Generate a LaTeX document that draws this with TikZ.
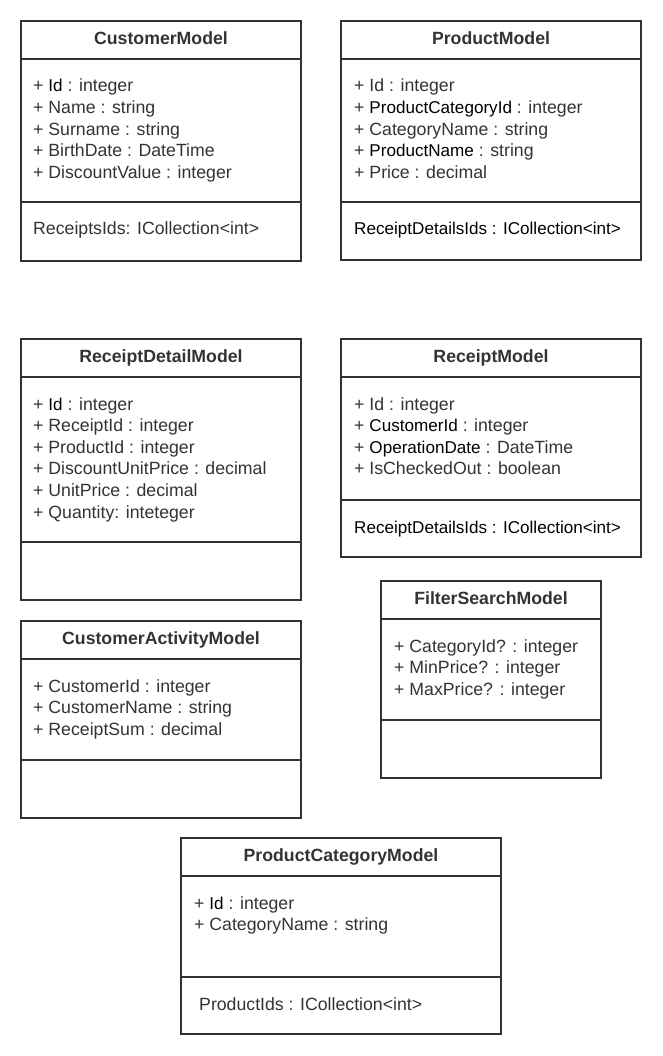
\documentclass[tikz,border=0pt]{standalone}
\usepackage{fontspec}
\setmainfont{Liberation Sans}
\usepackage{tikz}
\definecolor{ink}{HTML}{333333}
\newcommand{\dk}[1]{\textcolor{black}{\fontsize{17.1}{21.6}\selectfont #1}}

\begin{document}
\begin{tikzpicture}[x=1pt, y=-1pt, font=\fontsize{17.7}{21.6}\selectfont,
		box/.style={draw=ink, line width=2pt},
		title/.style={anchor=base, inner sep=0pt, text=ink, font=\fontsize{17.7}{21.6}\selectfont\bfseries},
		attr/.style={anchor=base west, inner sep=0pt, text=ink}]
			\useasboundingbox (0,0) rectangle (662,1056);
			
			% CustomerModel
			\draw[box] (21,21) rectangle (301,261);
			\draw[box] (21,59) -- (301,59);
			\draw[box] (21,202) -- (301,202);
			\node[title] (cmTitle) at (161,44.5) {CustomerModel};
			\foreach \t [count=\i] in {+ \dk{Id} : integer, + Name : string, + Surname : string, + BirthDate : DateTime, + DiscountValue : integer}
				\node[attr] (cmAttr\i) at (33,{92+(\i-1)*21.6}) {\t};
			\node[attr] (cmOps) at (33,235) {ReceiptsIds: ICollection<int>};
			
			% ProductModel
			\draw[box] (341,21) rectangle (641,260);
			\draw[box] (341,59) -- (641,59);
			\draw[box] (341,202) -- (641,202);
			\node[title] (pmTitle) at (491,44.5) {ProductModel};
			\foreach \t [count=\i] in {+ Id : integer, + \dk{ProductCategoryId} : integer, + CategoryName : string, + \dk{ProductName} : string, + Price : decimal}
				\node[attr] (pmAttr\i) at (354,{92+(\i-1)*21.6}) {\t};
			\node[attr] (pmOps) at (354,235) {\dk{ReceiptDetailsIds : ICollection<int>}};
			
			% ReceiptDetailModel
			\draw[box] (21,339) rectangle (301,600);
			\draw[box] (21,377) -- (301,377);
			\draw[box] (21,542) -- (301,542);
			\node[title] (rdTitle) at (161,362.5) {ReceiptDetailModel};
			\foreach \t [count=\i] in {+ \dk{Id} : integer, + ReceiptId : integer, + ProductId : integer, + DiscountUnitPrice : decimal, + UnitPrice : decimal, + Quantity: inteteger}
				\node[attr] (rdAttr\i) at (33,{410+(\i-1)*21.6}) {\t};
			
			% ReceiptModel
			\draw[box] (341,339) rectangle (641,557);
			\draw[box] (341,377) -- (641,377);
			\draw[box] (341,500) -- (641,500);
			\node[title] (rmTitle) at (491,362.5) {ReceiptModel};
			\foreach \t [count=\i] in {+ Id : integer, + \dk{CustomerId} : integer, + \dk{OperationDate} : DateTime, + IsCheckedOut : boolean}
				\node[attr] (rmAttr\i) at (354,{410+(\i-1)*21.6}) {\t};
			\node[attr] (rmOps) at (354,533) {\dk{ReceiptDetailsIds : ICollection<int>}};
			
			% FilterSearchModel
			\draw[box] (381,581) rectangle (601,778);
			\draw[box] (381,619) -- (601,619);
			\draw[box] (381,720) -- (601,720);
			\node[title] (fsTitle) at (491,604.5) {FilterSearchModel};
			\foreach \t [count=\i] in {+ CategoryId? : integer, + MinPrice? : integer, + MaxPrice? : integer}
				\node[attr] (fsAttr\i) at (394,{652+(\i-1)*21.6}) {\t};
			
			% CustomerActivityModel
			\draw[box] (21,621) rectangle (301,818);
			\draw[box] (21,659) -- (301,659);
			\draw[box] (21,760) -- (301,760);
			\node[title] (caTitle) at (161,644.5) {CustomerActivityModel};
			\foreach \t [count=\i] in {+ CustomerId : integer, + CustomerName : string, + ReceiptSum : decimal}
				\node[attr] (caAttr\i) at (33,{692+(\i-1)*21.6}) {\t};
			
			% ProductCategoryModel
			\draw[box] (181,838) rectangle (501,1034);
			\draw[box] (181,876) -- (501,876);
			\draw[box] (181,977) -- (501,977);
			\node[title] (pcTitle) at (341,861.5) {ProductCategoryModel};
			\foreach \t [count=\i] in {+ \dk{Id} : integer, + CategoryName : string}
				\node[attr] (pcAttr\i) at (194,{909+(\i-1)*21.6}) {\t};
			\node[attr] (pcOps) at (199,1010) {ProductIds : ICollection<int>};
		\end{tikzpicture}
\end{document}
